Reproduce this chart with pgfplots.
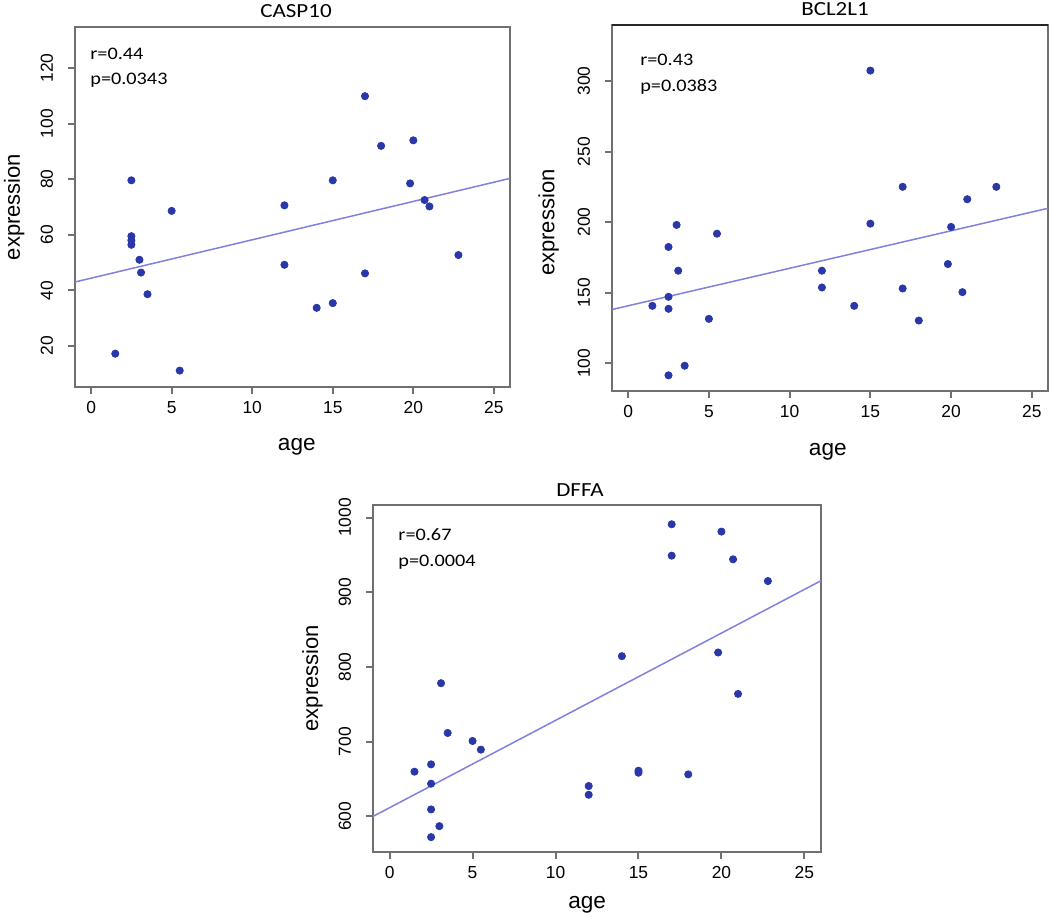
\documentclass[border=0pt]{standalone}
\usepackage{fontspec}
\setmainfont{Liberation Sans}
\newfontfamily\calib{Carlito}[FakeStretch=1.15]
\usepackage{pgfplots}
\pgfplotsset{compat=1.18}
\definecolor{ptc}{RGB}{42,55,168}
\definecolor{fitc}{RGB}{128,128,222}
\definecolor{boxc}{RGB}{112,112,112}

\pgfplotstableread{
x y
1.5 17.2
2.5 79.6
2.5 59.5
2.5 58.0
2.5 56.4
3.0 51.0
3.1 46.4
3.5 38.6
5.0 68.6
5.5 11.1
12 70.6
12 49.2
14 33.7
15 79.6
15 35.4
17 109.9
17 46.1
18 92.0
19.8 78.5
20 94.0
20.7 72.5
21 70.2
22.8 52.7
}\casp

\pgfplotstableread{
x y
1.5 140.7
2.5 182.4
2.5 147.1
2.5 138.6
2.5 91.5
3.0 198.0
3.1 165.6
3.5 98.3
5.0 131.5
5.5 191.8
12 165.6
12 153.7
14 140.7
15 307.3
15 198.9
17 225.0
17 153.0
18 130.3
19.8 170.3
20 196.6
20.7 150.4
21 216.2
22.8 225.0
}\bcl

\pgfplotstableread{
x y
1.5 659.9
2.5 669.7
2.5 643.8
2.5 609.4
2.5 572.3
3.0 587.0
3.1 778.3
3.5 711.7
5.0 701.0
5.5 689.4
12 640.7
12 629
14 814.5
15 661.2
15 658.5
17 991
17 949
18 656.3
19.8 819.4
20 981.2
20.7 944.1
21 764
22.8 915
}\dffa

\pgfplotsset{
  rstyle/.style={
    scale only axis,
    anchor=south west,
    xmin=-1, xmax=26,
    xtick={0,5,10,15,20,25},
    axis line style={boxc, line width=1pt},
    every tick/.style={boxc, line width=1pt},
    major tick length=3.5pt,
    tick align=outside,
    xtick pos=left, ytick pos=left,
    /pgf/number format/assume math mode=true,
    /pgf/number format/1000 sep={},
    ticklabel style={font=\fontsize{8.7}{9.5}\selectfont, text=black},
    xticklabel style={inner sep=3.6pt},
    yticklabel style={rotate=90, anchor=south, inner sep=7.3pt},
    xlabel={age}, ylabel={expression},
    xlabel style={font=\fontsize{11.3}{13}\selectfont, anchor=base},
    ylabel style={font=\fontsize{11}{13}\selectfont, anchor=center},
  },
  pts/.style={only marks, mark=*, mark size=1.8pt, color=ptc},
  fitl/.style={fitc, line width=0.75pt, no marks},
}
\tikzset{ann/.style={anchor=base west, inner sep=0pt, font=\calib\fontsize{8.8}{10}\selectfont}}

\begin{document}
\begin{tikzpicture}
\useasboundingbox (0,0) rectangle (525pt,458.5pt);

% CASP10
\begin{axis}[rstyle, at={(37.5pt,265pt)}, width=217.5pt, height=180pt,
  ymin=5.2, ymax=134.8, ytick={20,40,60,80,100,120},
  xlabel style={at={(axis description cs:0.51,-0.175)}},
  ylabel style={at={(axis description cs:-0.140,0.5)}}]
\addplot[fitl] coordinates {(-1,43.0) (26,80.3)};
\addplot[pts] table[x=x,y=y] {\casp};
\node[ann] at (axis description cs:0.0345,0.911) {r=0.44};
\node[ann] at (axis description cs:0.0345,0.839) {p=0.0343};
\end{axis}

% BCL2L1
\begin{axis}[rstyle, at={(306pt,263pt)}, width=218pt, height=183pt,
  ymin=80.4, ymax=339.6, ytick={100,150,200,250,300},
  xlabel style={at={(axis description cs:0.495,-0.177)}},
  ylabel style={at={(axis description cs:-0.145,0.46)}}]
\addplot[fitl] coordinates {(-1,138.1) (26,209.8)};
\addplot[pts] table[x=x,y=y] {\bcl};
\draw[black!85, line width=1.2pt] (axis description cs:0,1) -- (axis description cs:1,1);
\node[ann] at (axis description cs:0.064,0.888) {r=0.43};
\node[ann] at (axis description cs:0.064,0.817) {p=0.0383};
\end{axis}

% DFFA
\begin{axis}[rstyle, at={(186.5pt,32.65pt)}, width=224pt, height=173.5pt,
  ymin=552.8, ymax=1017.2, ytick={600,700,800,900,1000},
  xlabel style={at={(axis description cs:0.478,-0.165)}},
  ylabel style={at={(axis description cs:-0.135,0.5)}}]
\addplot[fitl] coordinates {(-1,600.0) (26,915.5)};
\addplot[pts] table[x=x,y=y] {\dffa};
\node[ann] at (axis description cs:0.056,0.898) {r=0.67};
\node[ann] at (axis description cs:0.056,0.823) {p=0.0004};
\end{axis}

% titles
\node[anchor=base, font=\calib\fontsize{10}{12}\selectfont] at (148pt,449.9pt) {CASP10};
\node[anchor=base, font=\calib\fontsize{10}{12}\selectfont] at (417.5pt,450.5pt) {BCL2L1};
\node[anchor=base, font=\calib\fontsize{10}{12}\selectfont] at (290pt,210pt) {DFFA};
\end{tikzpicture}
\end{document}
